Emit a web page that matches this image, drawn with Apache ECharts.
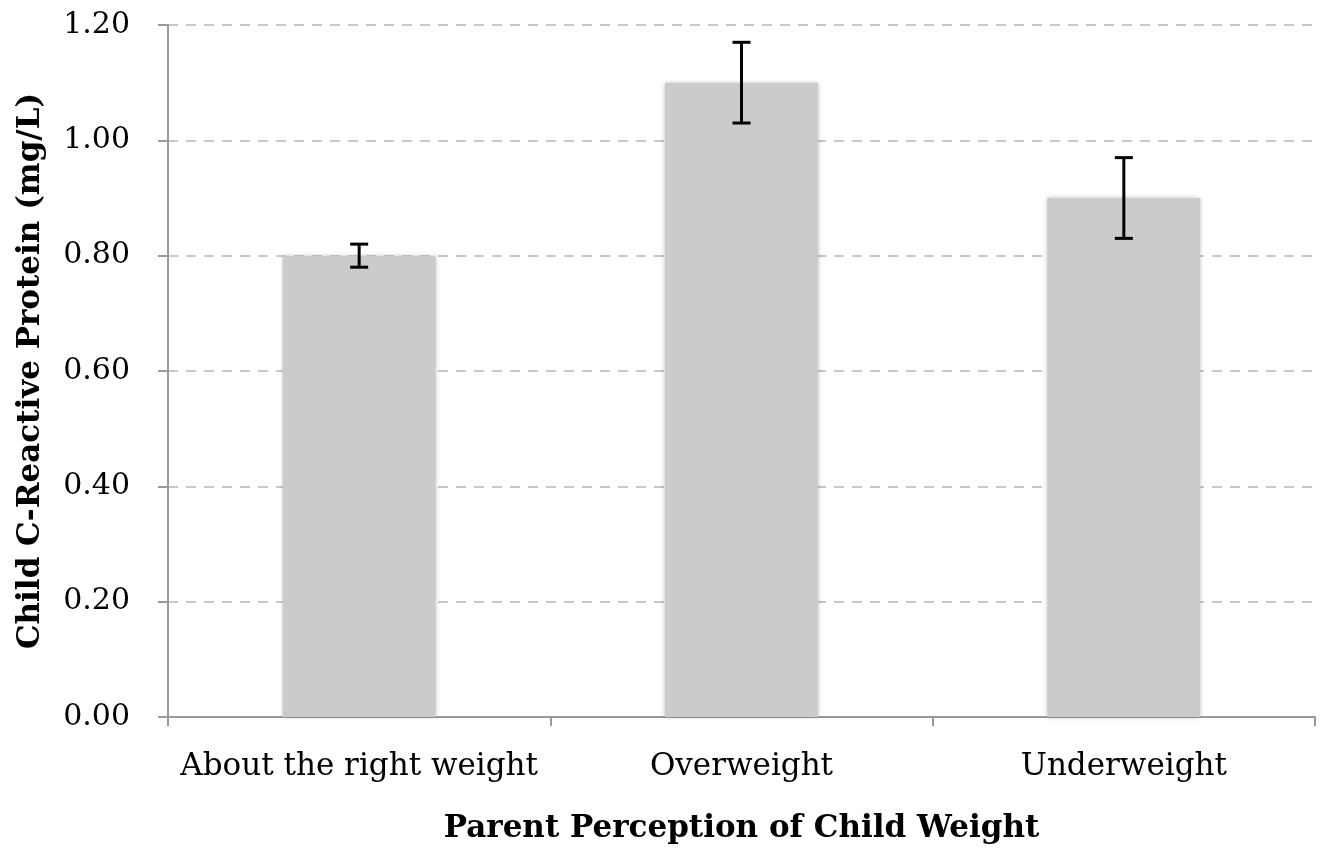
<!DOCTYPE html>
<html><head><meta charset="utf-8">
<script src="https://cdn.jsdelivr.net/npm/echarts@6/dist/echarts.min.js"></script>
<style>html,body{margin:0;padding:0;background:#fff}#c{width:1331px;height:850px}</style>
</head><body><div id="c"></div>
<script>
const categories = ["About the right weight", "Overweight", "Underweight"];
const means = [0.80, 1.10, 0.90];
const errLow = [0.78, 1.03, 0.83];
const errHigh = [0.82, 1.17, 0.97];
const yTicks = [0, 0.2, 0.4, 0.6, 0.8, 1.0, 1.2];

const chart = echarts.init(document.getElementById('c'));
const font = 'DejaVu Serif';
chart.setOption({
  animation: false,
  grid: {left: 168, right: 16, top: 25, bottom: 133, containLabel: false, outerBoundsMode: 'none'},
  xAxis: {
    type: 'category', data: categories,
    axisLine: {lineStyle: {color: '#999', width: 2}},
    axisTick: {show: true, length: 9, lineStyle: {color: '#999', width: 2}},
    axisLabel: {color: '#000', fontFamily: font, fontSize: 31, margin: 34, interval: 0},
    name: 'Parent Perception of Child Weight', nameLocation: 'middle', nameGap: 96,
    nameTextStyle: {color: '#000', fontFamily: font, fontSize: 31, fontWeight: 'bold'}
  },
  yAxis: {
    type: 'value', min: 0, max: 1.2, interval: 0.2,
    axisLine: {show: true, lineStyle: {color: '#999', width: 2}},
    axisTick: {show: true, length: 10, lineStyle: {color: '#999', width: 2}},
    axisLabel: {color: '#000', fontFamily: font, fontSize: 30, margin: 38,
      formatter: v => v.toFixed(2)},
    splitLine: {lineStyle: {color: '#c8c8c8', type: [10, 8], width: 2}},
    name: 'Child C-Reactive Protein (mg/L)', nameLocation: 'middle', nameGap: 122,
    nameTextStyle: {color: '#000', fontFamily: font, fontSize: 31, fontWeight: 'bold'}
  },
  series: [{
    type: 'bar', data: means, barWidth: '40%',
    itemStyle: {color: '#cbcbcb', shadowBlur: 5, shadowColor: 'rgba(0,0,0,0.25)'}
  }, {
    type: 'custom',
    data: categories.map((c, i) => [i, errLow[i], errHigh[i]]),
    renderItem: (params, api) => {
      const lo = api.coord([api.value(0), api.value(1)]);
      const hi = api.coord([api.value(0), api.value(2)]);
      const w = 9;
      const st = {stroke: '#000', lineWidth: 3};
      return {type: 'group', children: [
        {type: 'line', shape: {x1: hi[0], y1: hi[1], x2: lo[0], y2: lo[1]}, style: st},
        {type: 'line', shape: {x1: hi[0]-w, y1: hi[1], x2: hi[0]+w, y2: hi[1]}, style: st},
        {type: 'line', shape: {x1: lo[0]-w, y1: lo[1], x2: lo[0]+w, y2: lo[1]}, style: st}
      ]};
    },
    z: 10
  }]
});
</script></body></html>
